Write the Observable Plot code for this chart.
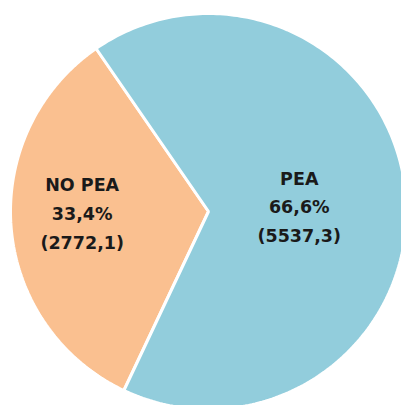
<!DOCTYPE html>
<html>
<head>
<meta charset="utf-8">
<script src="https://cdn.jsdelivr.net/npm/d3@7"></script>
<script src="https://cdn.jsdelivr.net/npm/@observablehq/plot@0.6"></script>
<style>
  html, body { margin: 0; padding: 0; background: #fff; }
  svg { display: block; }
</style>
</head>
<body>
<div id="chart"></div>
<script>
const categories = ["NO PEA", "PEA"];
const values = [2772.1, 5537.3];
const percentLabels = ["33,4%", "66,6%"];
const valueLabels = ["(2772,1)", "(5537,3)"];
const colors = ["#FAC090", "#92CDDC"];

const total = d3.sum(values);
const startAngle = 205.3 * Math.PI / 180; // clockwise from top
const slices = [];
let a0 = startAngle;
values.forEach((v, i) => {
  const a1 = a0 + v / total * 2 * Math.PI;
  slices.push({cat: categories[i], a0, a1, i});
  a0 = a1;
});

const pts = [];
for (const s of slices) {
  pts.push({cat: s.cat, x: 0, y: 0});
  const n = 240;
  for (let k = 0; k <= n; k++) {
    const a = s.a0 + (s.a1 - s.a0) * k / n;
    pts.push({cat: s.cat, x: Math.sin(a), y: Math.cos(a)});
  }
}

// label placement along each slice's mid-angle
const labelR = [0.64, 0.46];
const labelDy = [0.056, 0.0];
const labels = slices.map(s => {
  const m = (s.a0 + s.a1) / 2;
  return {
    cat: s.cat,
    x: Math.sin(m) * labelR[s.i],
    y: Math.cos(m) * labelR[s.i] + labelDy[s.i],
    text: categories[s.i] + "\n" + percentLabels[s.i] + "\n" + valueLabels[s.i]
  };
});

const chart = Plot.plot({
  width: 401,
  height: 405,
  margin: 0,
  x: {domain: [-1, 1], range: [10, 406], axis: null},
  y: {domain: [-1, 1], range: [409, 13], axis: null},
  color: {domain: categories, range: colors},
  style: {background: "#fff"},
  marks: [
    Plot.line(pts, {x: "x", y: "y", z: "cat", fill: "cat", stroke: "#fff", strokeWidth: 3, curve: "linear-closed", strokeLinejoin: "miter"}),
    Plot.text(labels, {x: "x", y: "y", text: "text", fill: "#1a1a1a", fontSize: 17.5, fontWeight: "bold", fontFamily: "DejaVu Sans", lineHeight: 1.64})
  ]
});
document.getElementById("chart").appendChild(chart);
</script>
</body>
</html>
